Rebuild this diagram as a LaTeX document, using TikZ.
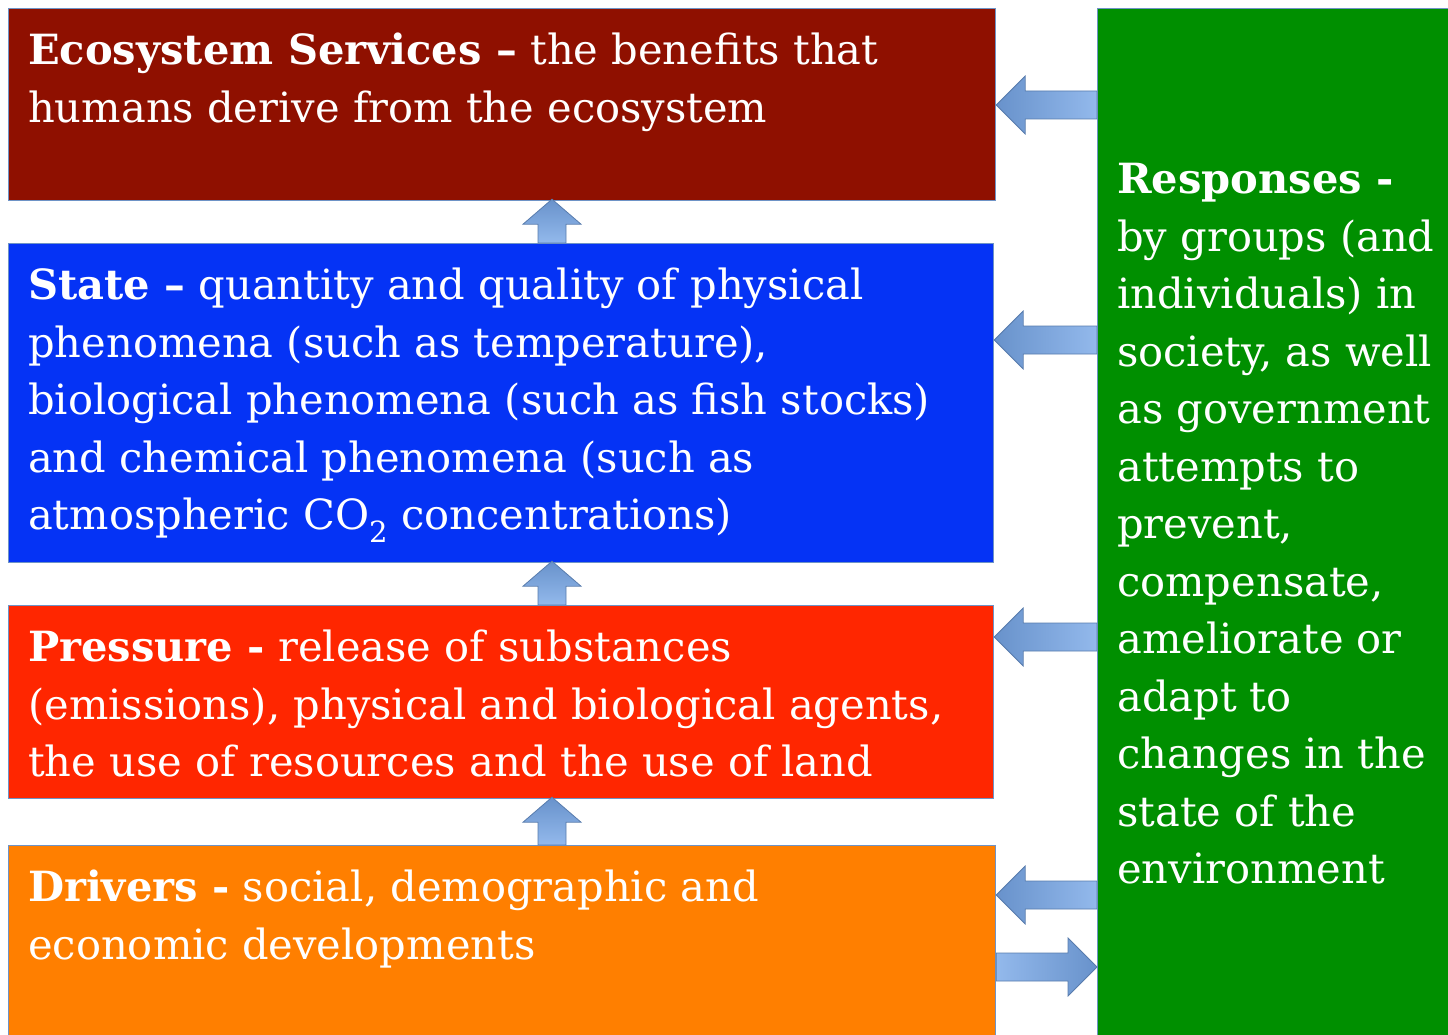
\documentclass[tikz,border=0pt]{standalone}
\usepackage{fontspec}
\setmainfont{DejaVu Serif}
\usetikzlibrary{calc}

\definecolor{ecored}{HTML}{8F1000}
\definecolor{stateblue}{HTML}{0533F5}
\definecolor{pressred}{HTML}{FF2600}
\definecolor{driveorange}{HTML}{FF7F00}
\definecolor{respgreen}{HTML}{008F00}
\definecolor{edgeblue}{HTML}{6E93C6}
\definecolor{arrowdark}{HTML}{6892CB}
\definecolor{arrowlight}{HTML}{93B9EC}

\tikzset{
	box/.style={draw=edgeblue, line width=1.2pt, inner sep=0pt, anchor=north west},
	boxtext/.style={text=white, anchor=north west, align=left, inner sep=0pt,
		font=\fontsize{41.6}{57.5}\selectfont},
	blockarrow/.style={draw=arrowdark!85!black, line width=0.8pt, line join=miter}
}

\begin{document}
\begin{tikzpicture}[x=1pt,y=-1pt]
	\useasboundingbox (0,0) rectangle (1448,1035);
	% boxes
	\node[box, fill=ecored, minimum width=987pt, minimum height=192pt] (eco) at (8,8) {};
	\node[box, fill=stateblue, minimum width=985pt, minimum height=319pt] (state) at (8,243) {};
	\node[box, fill=pressred, minimum width=985pt, minimum height=193pt] (press) at (8,605) {};
	\node[box, fill=driveorange, minimum width=987pt, minimum height=200pt] (drive) at (8,845) {};
	\node[box, fill=respgreen, minimum width=360pt, minimum height=1040pt] (resp) at (1097,8) {};
	% texts
	\node[boxtext] (ecotext) at ($(eco.north west)+(20,25)$)
		{\textbf{Ecosystem Services –} the benefits that\\humans derive from the ecosystem};
	\node[boxtext] (statetext) at ($(state.north west)+(20,25)$)
		{\textbf{State –} quantity and quality of physical\\phenomena (such as temperature),\\biological phenomena (such as fish stocks)\\and chemical phenomena (such as\\atmospheric CO\textsubscript{2} concentrations)};
	\node[boxtext] (presstext) at ($(press.north west)+(20,25)$)
		{\textbf{Pressure -} release of substances\\(emissions), physical and biological agents,\\the use of resources and the use of land};
	\node[boxtext] (drivetext) at ($(drive.north west)+(20,25)$)
		{\textbf{Drivers -} social, demographic and\\economic developments};
	\node[boxtext] (resptext) at ($(resp.north west)+(20,155)$)
		{\textbf{Responses -}\\by groups (and\\individuals) in\\society, as well\\as government\\attempts to\\prevent,\\compensate,\\ameliorate or\\adapt to\\changes in the\\state of the\\environment};
	% arrows from responses back to the boxes
	\foreach \b/\h in {eco/105, state/340, press/637, drive/895}
		\path[blockarrow, left color=arrowdark, right color=arrowlight]
			let \p1=(\b.east |- 0,\h), \p2=(resp.west |- 0,\h) in
			(\x1,\y1) -- (\x1+29pt,\y1+29pt) -- (\x1+29pt,\y1+14pt) -- (\x2,\y1+14pt)
			-- (\x2,\y1-14pt) -- (\x1+29pt,\y1-14pt) -- (\x1+29pt,\y1-29pt) -- cycle;
	% drivers to responses
	\path[blockarrow, left color=arrowlight, right color=arrowdark]
		let \p1=(drive.east |- 0,967), \p2=(resp.west |- 0,967) in
		(\x2,\y2) -- (\x2-29pt,\y2+29pt) -- (\x2-29pt,\y2+14pt) -- (\x1,\y2+14pt)
		-- (\x1,\y2-14pt) -- (\x2-29pt,\y2-14pt) -- (\x2-29pt,\y2-29pt) -- cycle;
	% upward arrows
	\foreach \a/\b in {eco/state, state/press, press/drive}
		\path[blockarrow, top color=arrowdark, bottom color=arrowlight]
			let \p1=(\a.south -| 552,0), \p2=(\b.north -| 552,0) in
			(\x1,\y1+2pt) -- (\x1+29pt,\y1-23pt) -- (\x1+14pt,\y1-23pt) -- (\x1+14pt,\y2)
			-- (\x1-14pt,\y2) -- (\x1-14pt,\y1-23pt) -- (\x1-29pt,\y1-23pt) -- cycle;
\end{tikzpicture}
\end{document}
